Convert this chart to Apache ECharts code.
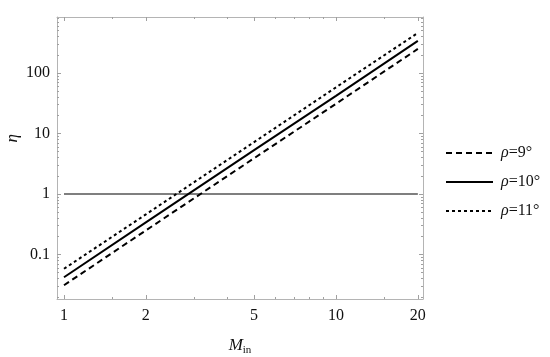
<!DOCTYPE html>
<html>
<head>
	<meta charset="UTF-8">
	<title>eta vs M_in</title>
	<script type="text/javascript" src="https://cdn.jsdelivr.net/npm/echarts@6/dist/echarts.min.js"></script>
	<style>
		html, body { margin: 0; padding: 0; background: #fff; }
		#show { width: 550px; height: 357px; }
	</style>
</head>
<body>
<div id="show"></div>

<script type="text/javascript">
	// values (log-log plot)
	var mIn = [1, 2, 5, 10, 20];
	var eta9 = [0.031, 0.25, 3.9, 31, 250];
	var eta10 = [0.042, 0.34, 5.3, 42, 340];
	var eta11 = [0.058, 0.46, 7.2, 58, 460];
	var refLine = [[1, 1], [20, 1]];

	var xTicks = [1, 2, 5, 10, 20];
	var xMinor = [1.5, 3, 4, 6, 7, 8, 9, 15];
	var yTicks = [0.1, 1, 10, 100];
	var yMinor = [0.02, 0.03, 0.04, 0.05, 0.06, 0.07, 0.08, 0.09,
		0.2, 0.3, 0.4, 0.5, 0.6, 0.7, 0.8, 0.9,
		2, 3, 4, 5, 6, 7, 8, 9,
		20, 30, 40, 50, 60, 70, 80, 90,
		200, 300, 400, 500, 600, 700, 800];

	var lg = function (v) { return Math.log10(v); };
	var pairs = function (xs, ys) { return xs.map(function (x, i) { return [lg(x), lg(ys[i])]; }); };
	var fmt = function (v) { return String(Math.round(Math.pow(10, v) * 1000) / 1000); };

	var serif = '"Liberation Serif", "Times New Roman", serif';
	var frame = { show: true, onZero: false, lineStyle: { color: '#b4b4b4', width: 1 } };

	function makeAxis(pos, range, values, len, withLine, withLabel, extra) {
		var ax = {
			type: 'value',
			position: pos,
			min: range[0],
			max: range[1],
			axisLine: withLine ? frame : { show: false, onZero: false },
			axisTick: {
				show: true, inside: true, length: len,
				customValues: values.map(lg),
				lineStyle: { color: '#a0a0a0', width: 1 }
			},
			axisLabel: withLabel ? {
				show: true,
				customValues: values.map(lg),
				formatter: fmt,
				fontFamily: serif,
				fontSize: 16,
				color: '#111',
				margin: pos === 'bottom' ? 9 : 7
			} : { show: false },
			splitLine: { show: false }
		};
		for (var k in extra) ax[k] = extra[k];
		return ax;
	}

	var xRange = [-0.0257, 1.32];
	var yRange = [-1.736, 2.926];

	var myChart = echarts.init(document.getElementById('show'));

	var option = {
		animation: false,
		backgroundColor: '#fff',
		grid: { left: 57, right: 127, top: 17, bottom: 58, outerBoundsMode: 'none', containLabel: false },
		xAxis: [
			makeAxis('bottom', xRange, xTicks, 4, true, true, {
				name: '{m|M}{s|in}',
				nameLocation: 'middle',
				nameGap: 37,
				nameTextStyle: {
					rich: {
						m: { fontFamily: serif, fontStyle: 'italic', fontSize: 17, color: '#111' },
						s: { fontFamily: serif, fontSize: 11, color: '#111', padding: [9, 0, 0, 0] }
					}
				}
			}),
			makeAxis('bottom', xRange, xMinor, 2, false, false, {}),
			makeAxis('top', xRange, xTicks, 4, true, false, {}),
			makeAxis('top', xRange, xMinor, 2, false, false, {})
		],
		yAxis: [
			makeAxis('left', yRange, yTicks, 4, true, true, {}),
			makeAxis('left', yRange, yMinor, 2, false, false, {}),
			makeAxis('right', yRange, yTicks, 4, true, false, {}),
			makeAxis('right', yRange, yMinor, 2, false, false, {})
		],
		legend: {
			data: ['ρ=9°', 'ρ=10°', 'ρ=11°'],
			orient: 'vertical',
			left: 440,
			top: 140,
			itemWidth: 47,
			itemHeight: 14,
			itemGap: 13,
			itemStyle: { opacity: 0 },
			formatter: function (name) { return '{i|ρ}' + name.slice(1); },
			textStyle: {
				fontFamily: serif,
				fontSize: 16,
				color: '#111',
				padding: [0, 0, 0, 3],
				rich: {
					i: { fontFamily: serif, fontStyle: 'italic', fontSize: 16, color: '#111' }
				}
			}
		},
		graphic: [{
			type: 'text',
			left: 4,
			top: 134,
			rotation: Math.PI / 2,
			style: {
				text: 'η',
				font: 'italic 17px "Liberation Serif"',
				fill: '#111'
			}
		}],
		series: [
			{
				name: 'ref',
				type: 'line',
				data: refLine.map(function (p) { return [lg(p[0]), lg(p[1])]; }),
				symbol: 'none',
				lineStyle: { color: '#555', width: 1.5 },
				silent: true
			},
			{
				name: 'ρ=9°',
				type: 'line',
				data: pairs(mIn, eta9),
				symbol: 'none',
				lineStyle: { color: '#000', width: 2, type: [6, 4] }
			},
			{
				name: 'ρ=10°',
				type: 'line',
				data: pairs(mIn, eta10),
				symbol: 'none',
				lineStyle: { color: '#000', width: 2, type: 'solid' }
			},
			{
				name: 'ρ=11°',
				type: 'line',
				data: pairs(mIn, eta11),
				symbol: 'none',
				lineStyle: { color: '#000', width: 2, type: [3, 3] }
			}
		]
	};

	myChart.setOption(option);
</script>
</body>
</html>
